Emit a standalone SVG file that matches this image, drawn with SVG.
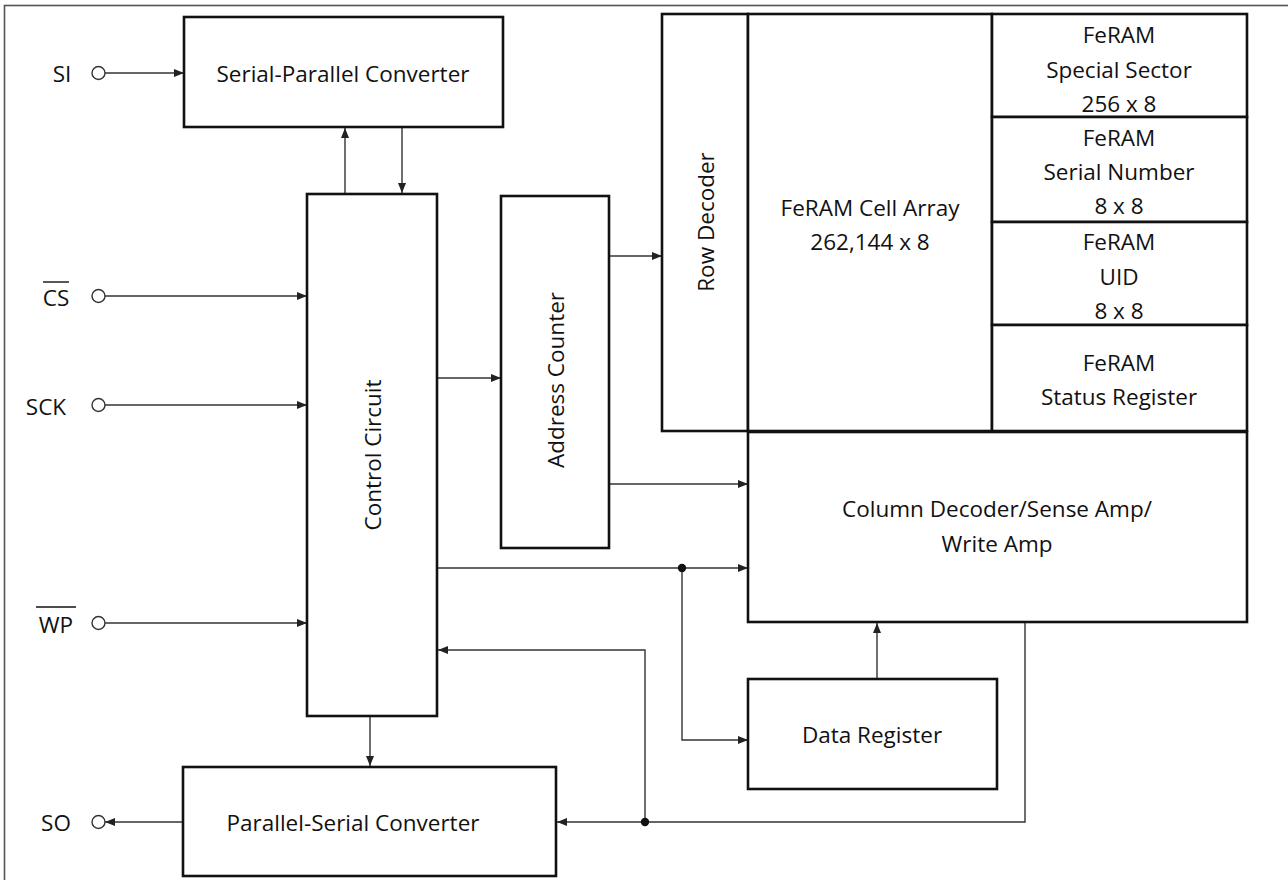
<svg xmlns="http://www.w3.org/2000/svg" width="1288" height="880" viewBox="0 0 1288 880">
<style>
.box{fill:#fff;stroke:#111;stroke-width:2.6}
.c{fill:none;stroke:#333;stroke-width:1.4}
.t{font-family:"Open Sans","Liberation Sans",Arial,sans-serif;font-size:22.5px;fill:#111;text-anchor:middle;dominant-baseline:central}
.pin{fill:#fff;stroke:#333;stroke-width:1.4}
.dot{fill:#111}
</style>
<defs>
<marker id="a" viewBox="0 0 10 8" refX="10" refY="4" markerWidth="11" markerHeight="8" markerUnits="userSpaceOnUse" orient="auto">
<path d="M0,0 L10,4 L0,8 z" fill="#222"/>
</marker>
</defs>
<rect x="4.5" y="5.5" width="1300" height="900" fill="#fff" stroke="#555" stroke-width="1.6"/>

<g id="connectors">
<line class="c" x1="105" y1="73" x2="184" y2="73" marker-end="url(#a)"/>
<line class="c" x1="105" y1="296" x2="307" y2="296" marker-end="url(#a)"/>
<line class="c" x1="105" y1="405" x2="307" y2="405" marker-end="url(#a)"/>
<line class="c" x1="105" y1="623" x2="307" y2="623" marker-end="url(#a)"/>
<line class="c" x1="183" y1="822" x2="105" y2="822" marker-end="url(#a)"/>
<line class="c" x1="345" y1="194" x2="345" y2="128" marker-end="url(#a)"/>
<line class="c" x1="402" y1="127" x2="402" y2="193" marker-end="url(#a)"/>
<line class="c" x1="437" y1="378" x2="501" y2="378" marker-end="url(#a)"/>
<line class="c" x1="609" y1="256" x2="662" y2="256" marker-end="url(#a)"/>
<line class="c" x1="609" y1="484" x2="748" y2="484" marker-end="url(#a)"/>
<line class="c" x1="437" y1="568" x2="748" y2="568" marker-end="url(#a)"/>
<polyline class="c" points="682,568 682,740 748,740" marker-end="url(#a)"/>
<line class="c" x1="877" y1="679" x2="877" y2="623" marker-end="url(#a)"/>
<polyline class="c" points="1025,622 1025,822 557,822" marker-end="url(#a)"/>
<polyline class="c" points="645,822 645,650 438,650" marker-end="url(#a)"/>
<line class="c" x1="370" y1="716" x2="370" y2="766" marker-end="url(#a)"/>
<circle class="dot" cx="682" cy="568" r="4.2"/>
<circle class="dot" cx="645" cy="822" r="4.2"/>
</g>

<g id="pins">
<g id="pin-si"><text class="t" x="62" y="73">SI</text><circle class="pin" cx="98.5" cy="73" r="6.5"/></g>
<g id="pin-cs"><text class="t" x="56" y="297">CS</text><line x1="43" y1="282" x2="69" y2="282" stroke="#111" stroke-width="1.4"/><circle class="pin" cx="98.5" cy="296" r="6.5"/></g>
<g id="pin-sck"><text class="t" x="46" y="406">SCK</text><circle class="pin" cx="98.5" cy="405" r="6.5"/></g>
<g id="pin-wp"><text class="t" x="56" y="624">WP</text><line x1="36" y1="607" x2="76" y2="607" stroke="#111" stroke-width="1.4"/><circle class="pin" cx="98.5" cy="623" r="6.5"/></g>
<g id="pin-so"><text class="t" x="56" y="822">SO</text><circle class="pin" cx="98.5" cy="822" r="6.5"/></g>
</g>

<g id="serial-parallel"><rect class="box" x="184" y="17" width="319" height="110"/><text class="t" x="343" y="73">Serial-Parallel Converter</text></g>
<g id="control-circuit"><rect class="box" x="307" y="194" width="130" height="522"/><text class="t" transform="translate(372,455) rotate(-90)">Control Circuit</text></g>
<g id="address-counter"><rect class="box" x="501" y="196" width="108" height="352"/><text class="t" transform="translate(555,380) rotate(-90)">Address Counter</text></g>
<g id="parallel-serial"><rect class="box" x="183" y="767" width="373" height="109"/><text class="t" x="353" y="822">Parallel-Serial Converter</text></g>
<g id="row-decoder"><rect class="box" x="662" y="14" width="86" height="417"/><text class="t" transform="translate(705,222) rotate(-90)">Row Decoder</text></g>
<g id="cell-array"><rect class="box" x="748" y="14" width="244" height="417"/><text class="t" x="870" y="207">FeRAM Cell Array</text><text class="t" x="870" y="241">262,144 x 8</text></g>
<g id="special-sector"><rect class="box" x="992" y="14" width="255" height="103"/><text class="t" x="1119" y="34">FeRAM</text><text class="t" x="1119" y="69">Special Sector</text><text class="t" x="1119" y="103">256 x 8</text></g>
<g id="serial-number"><rect class="box" x="992" y="117" width="255" height="105"/><text class="t" x="1119" y="137">FeRAM</text><text class="t" x="1119" y="171">Serial Number</text><text class="t" x="1119" y="205">8 x 8</text></g>
<g id="uid"><rect class="box" x="992" y="222" width="255" height="103"/><text class="t" x="1119" y="241">FeRAM</text><text class="t" x="1119" y="276">UID</text><text class="t" x="1119" y="310">8 x 8</text></g>
<g id="status-register"><rect class="box" x="992" y="325" width="255" height="106"/><text class="t" x="1119" y="362">FeRAM</text><text class="t" x="1119" y="396">Status Register</text></g>
<g id="column-decoder"><rect class="box" x="748" y="432" width="499" height="190"/><text class="t" x="997" y="508">Column Decoder/Sense Amp/</text><text class="t" x="997" y="543">Write Amp</text></g>
<g id="data-register"><rect class="box" x="748" y="679" width="249" height="110"/><text class="t" x="872" y="734">Data Register</text></g>
</svg>
